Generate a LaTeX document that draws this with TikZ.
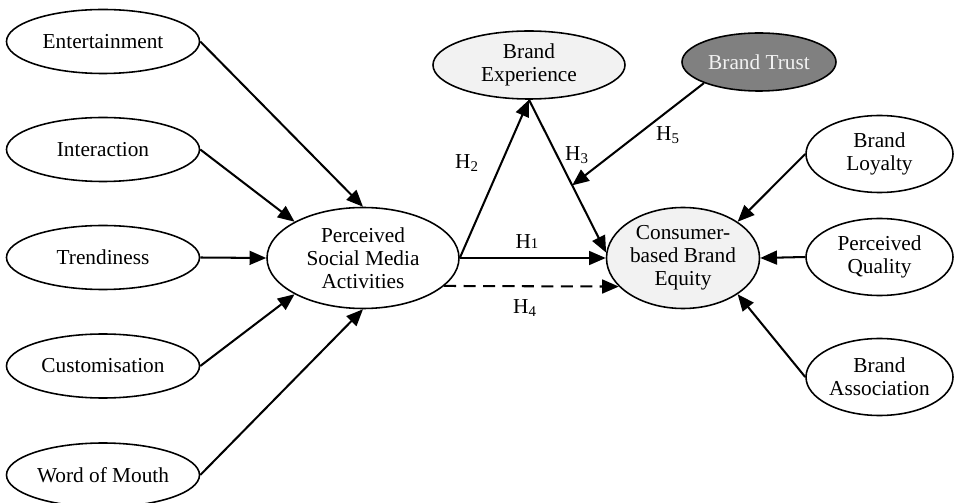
\documentclass[tikz,border=0pt]{standalone}
\usepackage{fontspec}
\setmainfont{Liberation Serif}
\usepackage{tikz}
\usetikzlibrary{arrows.meta,shapes,calc,positioning}
\definecolor{lightfill}{HTML}{F2F2F2}
\definecolor{darkfill}{HTML}{808080}
\newlength{\px}
\setlength{\px}{0.54pt}
\tikzset{
	every node/.style={
		font=\fontsize{11.5}{12.4}\selectfont
	},
	construct/.style={
		shape=ellipse,
		draw,
		line width=0.85pt,
		inner sep=0pt,
		align=center,
		minimum width=193\px,
		minimum height=64\px
	},
	outcome/.style={
		construct,
		fill=lightfill
	},
	moderator/.style={
		construct,
		fill=darkfill,
		text=lightfill
	},
	myarrow/.style={-{Triangle[length=9pt,width=7.5pt]}, line width=1.1pt},
	hyp/.style={inner sep=1pt}
}

\begin{document}
\begin{tikzpicture}[x=\px, y=-\px]

\useasboundingbox (0,0) rectangle (954,503);

% dimensions
\node [construct] (ent)   at (103,41.5) {Entertainment};
\node [construct] (inter) at (103,149.5) {Interaction};
\node [construct] (trend) at (103,257.5) {Trendiness};
\node [construct] (cust)  at (103,366) {Customisation};
\node [construct] (wom)   at (103,475) {Word of Mouth};

\node [construct, minimum width=192\px, minimum height=101\px] (psma) at (363,258) {Perceived\\Social Media\\Activities};
\node [outcome, minimum width=192\px, minimum height=68\px] (bexp) at (529,65) {Brand\\Experience};
\node [moderator, minimum width=154\px, minimum height=58\px] (btrust) at (759,62) {Brand Trust};
\node [outcome, minimum width=153\px, minimum height=101\px] (cbbe) at (683,258) {Consumer-\\based Brand\\Equity};

\node [construct, minimum width=147\px, minimum height=77\px] (loyal) at (879.5,154) {Brand\\Loyalty};
\node [construct, minimum width=147\px, minimum height=77\px] (qual)  at (879.5,257) {Perceived\\Quality};
\node [construct, minimum width=147\px, minimum height=77\px] (assoc) at (879.5,377) {Brand\\Association};

% arrows into PSMA
\draw [myarrow] (ent.east) -- (psma.north);
\draw [myarrow] (inter.east) -- (psma.north west);
\draw [myarrow] (trend.east) -- (psma.west);
\draw [myarrow] (cust.east) -- (psma.south west);
\draw [myarrow] (wom.east) -- (psma.south);

% arrows into CBBE
\draw [myarrow] (loyal.west) -- (cbbe.north east);
\draw [myarrow] (qual.west) -- (cbbe.east);
\draw [myarrow] (assoc.west) -- (cbbe.south east);

% hypotheses
\draw [myarrow] (psma.east) -- (cbbe.west);
\draw [myarrow, dashed, dash pattern=on 6.5pt off 4pt] (psma.-19) -- (cbbe.204);
\draw [myarrow] (psma.east) -- (bexp.south);
\draw [myarrow] (bexp.south) -- (cbbe.176);
\coordinate (mod) at ($(bexp.south)!0.56!(cbbe.176)$);
\draw [myarrow] (btrust.south west) -- (mod);

\node [hyp] (h1) at (527,242) {H{\footnotesize 1}};
\node [hyp] (h2) at (467,163) {H\textsubscript{2}};
\node [hyp] (h3) at (577,155) {H\textsubscript{3}};
\node [hyp] (h4) at (525,308) {H\textsubscript{4}};
\node [hyp] (h5) at (668,135) {H\textsubscript{5}};

\end{tikzpicture}
\end{document}
